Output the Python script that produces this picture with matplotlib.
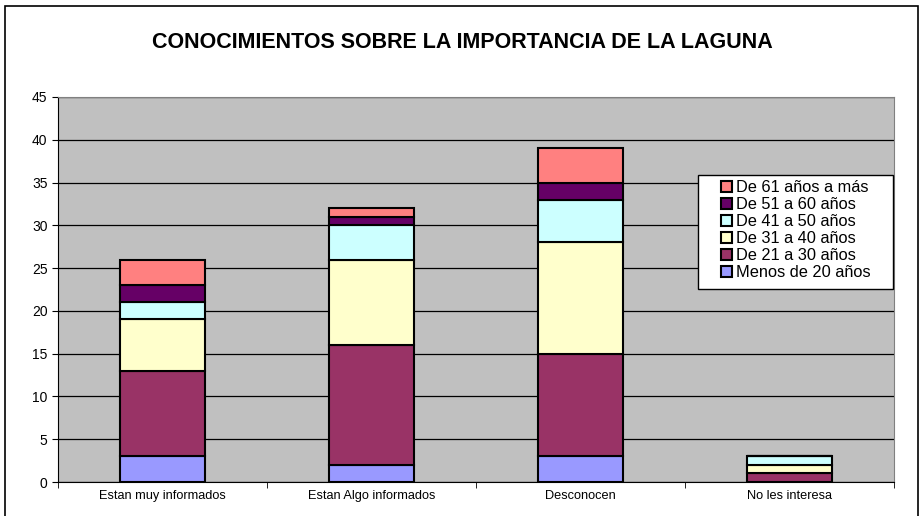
import numpy as np
import matplotlib.pyplot as plt
from matplotlib.patches import Rectangle

plt.rcParams['font.family'] = ['Liberation Sans', 'DejaVu Sans']

categories = ['Estan muy informados', 'Estan Algo informados', 'Desconocen', 'No les interesa']
series_names = ['Menos de 20 años', 'De 21 a 30 años', 'De 31 a 40 años',
                'De 41 a 50 años', 'De 51 a 60 años', 'De 61 años a más']
menos_20 = [3, 2, 3, 0]
de_21_30 = [10, 14, 12, 1]
de_31_40 = [6, 10, 13, 1]
de_41_50 = [2, 4, 5, 1]
de_51_60 = [2, 1, 2, 0]
de_61_mas = [3, 1, 4, 0]
series = [menos_20, de_21_30, de_31_40, de_41_50, de_51_60, de_61_mas]
colors = ['#9999FF', '#993366', '#FFFFCC', '#CCFFFF', '#660066', '#FF8080']

fig = plt.figure(figsize=(9.24, 5.16), dpi=100)
W, H = 924, 516
ax = fig.add_axes([58 / W, 1 - 482 / H, (894 - 58) / W, (482 - 97) / H])
ax.set_facecolor('#C0C0C0')

# outer chart border
fig.patches.append(Rectangle((5 / W, -0.01), 913 / W, 1 - 6 / H + 0.01,
                             transform=fig.transFigure, fill=False,
                             edgecolor='black', linewidth=1.2))

x = np.arange(len(categories))
bottom = np.zeros(len(categories))
handles = []
for vals, name, col in zip(series, series_names, colors):
    vals = np.array(vals, dtype=float)
    b = ax.bar(x, vals, 0.41, bottom=bottom, color=col, edgecolor='black',
               linewidth=1.5, label=name, zorder=3)
    handles.append(b)
    bottom += vals

ax.set_xlim(-0.5, 3.5)
ax.set_ylim(0, 45)
ax.set_yticks(np.arange(0, 46, 5))
ax.yaxis.grid(True, color='black', linewidth=0.9, zorder=1)
ax.set_axisbelow(True)

ax.set_xticks(x)
ax.set_xticklabels(categories, fontsize=9.2)
ax.set_xticks(np.arange(-0.5, 3.6, 1), minor=True)
ax.tick_params(axis='x', which='major', length=0, pad=6)
ax.tick_params(axis='x', which='minor', length=4, color='black', direction='out')
ax.tick_params(axis='y', labelsize=10, length=4, direction='out')

for s in ['top', 'right']:
    ax.spines[s].set_color('#808080')
for s in ['left', 'bottom']:
    ax.spines[s].set_color('black')

fig.text(0.5, 1 - 42 / H, 'CONOCIMIENTOS SOBRE LA IMPORTANCIA DE LA LAGUNA',
         ha='center', va='center', fontsize=15.5, fontweight='bold')

# legend box drawn separately (Excel-style wide padding)
ax.add_patch(Rectangle((698 / W, 1 - 289 / H), 195 / W, 114 / H,
                       transform=fig.transFigure, facecolor='white',
                       edgecolor='black', linewidth=1.0, zorder=5,
                       clip_on=False))
leg = ax.legend(handles[::-1], series_names[::-1], loc='upper left',
                bbox_to_anchor=(721 / W, 1 - 180.5 / H),
                bbox_transform=fig.transFigure,
                fontsize=11.8, frameon=False,
                handlelength=0.65, handleheight=0.65,
                handletextpad=0.25, labelspacing=0.12, borderpad=0,
                borderaxespad=0)
leg.set_zorder(6)

fig.savefig('out.png', dpi=100)
